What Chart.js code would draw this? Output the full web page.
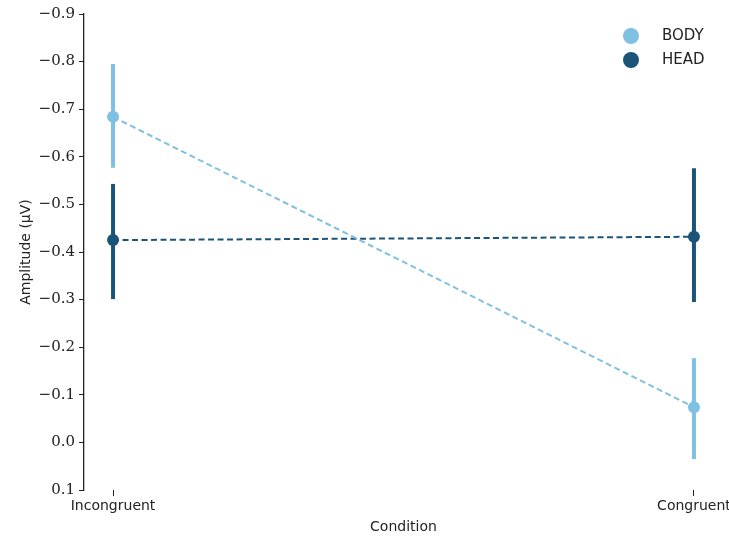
<!DOCTYPE html>
<html>
<head>
<meta charset="utf-8">
<script src="https://cdn.jsdelivr.net/npm/chart.js@4/dist/chart.umd.min.js"></script>
<style>
  html, body { margin: 0; padding: 0; background: #fff; }
  #wrap { width: 729px; height: 537px; }
</style>
</head>
<body>
<div id="wrap"><canvas id="myChart"></canvas></div>
<script>
const conditions = ['Incongruent', 'Congruent'];
const bodyMean = [-0.684, -0.074];
const bodyLow = [-0.795, -0.177];
const bodyHigh = [-0.577, 0.035];
const headMean = [-0.425, -0.432];
const headLow = [-0.543, -0.576];
const headHigh = [-0.301, -0.295];
const yTicks = [-0.9, -0.8, -0.7, -0.6, -0.5, -0.4, -0.3, -0.2, -0.1, 0.0, 0.1];

const BODY_COLOR = '#7fc1e2';
const HEAD_COLOR = '#1b5478';

const toPoints = arr => arr.map((v, i) => ({ x: i, y: v }));

const errorBars = {
  id: 'errorBars',
  beforeDatasetsDraw(chart) {
    const { ctx, scales: { x, y } } = chart;
    chart.data.datasets.forEach(ds => {
      ctx.save();
      ctx.strokeStyle = ds.borderColor;
      ctx.lineWidth = 4;
      ds.low.forEach((lo, i) => {
        const px = x.getPixelForValue(i);
        ctx.beginPath();
        ctx.moveTo(px, y.getPixelForValue(lo));
        ctx.lineTo(px, y.getPixelForValue(ds.high[i]));
        ctx.stroke();
      });
      ctx.restore();
    });
  }
};

const sideLegend = {
  id: 'sideLegend',
  afterDraw(chart) {
    const { ctx } = chart;
    ctx.save();
    ctx.font = '15px "DejaVu Sans"';
    ctx.textBaseline = 'middle';
    chart.data.datasets.forEach((ds, i) => {
      const cy = 36 + i * 24;
      ctx.fillStyle = ds.borderColor;
      ctx.beginPath();
      ctx.arc(631, cy, 8, 0, Math.PI * 2);
      ctx.fill();
      ctx.fillStyle = '#222';
      ctx.fillText(ds.label, 662, cy);
    });
    ctx.restore();
  }
};

const ctx = document.getElementById('myChart').getContext('2d');
const chart = new Chart(ctx, {
  type: 'line',
  data: {
    datasets: [
      { label: 'BODY', data: toPoints(bodyMean), low: bodyLow, high: bodyHigh,
        borderColor: BODY_COLOR, backgroundColor: BODY_COLOR },
      { label: 'HEAD', data: toPoints(headMean), low: headLow, high: headHigh,
        borderColor: HEAD_COLOR, backgroundColor: HEAD_COLOR }
    ].map(d => Object.assign(d, {
      borderWidth: 2, borderDash: [6, 3.5], pointRadius: 6, pointHoverRadius: 6,
      pointBorderWidth: 0, tension: 0
    }))
  },
  options: {
    responsive: true,
    maintainAspectRatio: false,
    animation: false,
    layout: { padding: { top: 14, right: 6, left: 18, bottom: 0 } },
    plugins: { legend: { display: false }, tooltip: { enabled: false } },
    scales: {
      x: {
        type: 'linear',
        min: -0.05,
        max: 1.05,
        afterBuildTicks: s => { s.ticks = conditions.map((c, i) => ({ value: i })); },
        afterFit: s => { s.height = 47; s.paddingLeft = 0; s.paddingRight = 0; },
        border: { display: false },
        grid: { drawOnChartArea: false, drawTicks: true, tickLength: 6, color: '#222', lineWidth: 1 },
        ticks: {
          padding: 2,
          color: '#222',
          font: { family: 'DejaVu Sans', size: 14 },
          callback: v => conditions[v]
        },
        title: {
          display: true, text: 'Condition', color: '#222',
          font: { family: 'DejaVu Sans', size: 14 }, padding: { top: 2, bottom: 1 }
        }
      },
      y: {
        reverse: true,
        min: -0.9,
        max: 0.1,
        afterBuildTicks: s => { s.ticks = yTicks.map(v => ({ value: v })); },
        afterFit: s => { s.width = 66; },
        border: { display: true, color: '#222', width: 1.3 },
        grid: { drawOnChartArea: false, drawTicks: true, tickLength: 5, color: '#222' },
        ticks: {
          padding: 4,
          color: '#222',
          font: { family: 'DejaVu Serif', size: 15 },
          callback: v => (v < 0 ? '\u2212' : '') + Math.abs(v).toFixed(1)
        },
        title: {
          display: true, text: 'Amplitude (\u03bcV)', color: '#222',
          font: { family: 'DejaVu Sans', size: 14 }, padding: { top: 0, bottom: 0 }
        }
      }
    }
  },
  plugins: [errorBars, sideLegend]
});
</script>
</body>
</html>
